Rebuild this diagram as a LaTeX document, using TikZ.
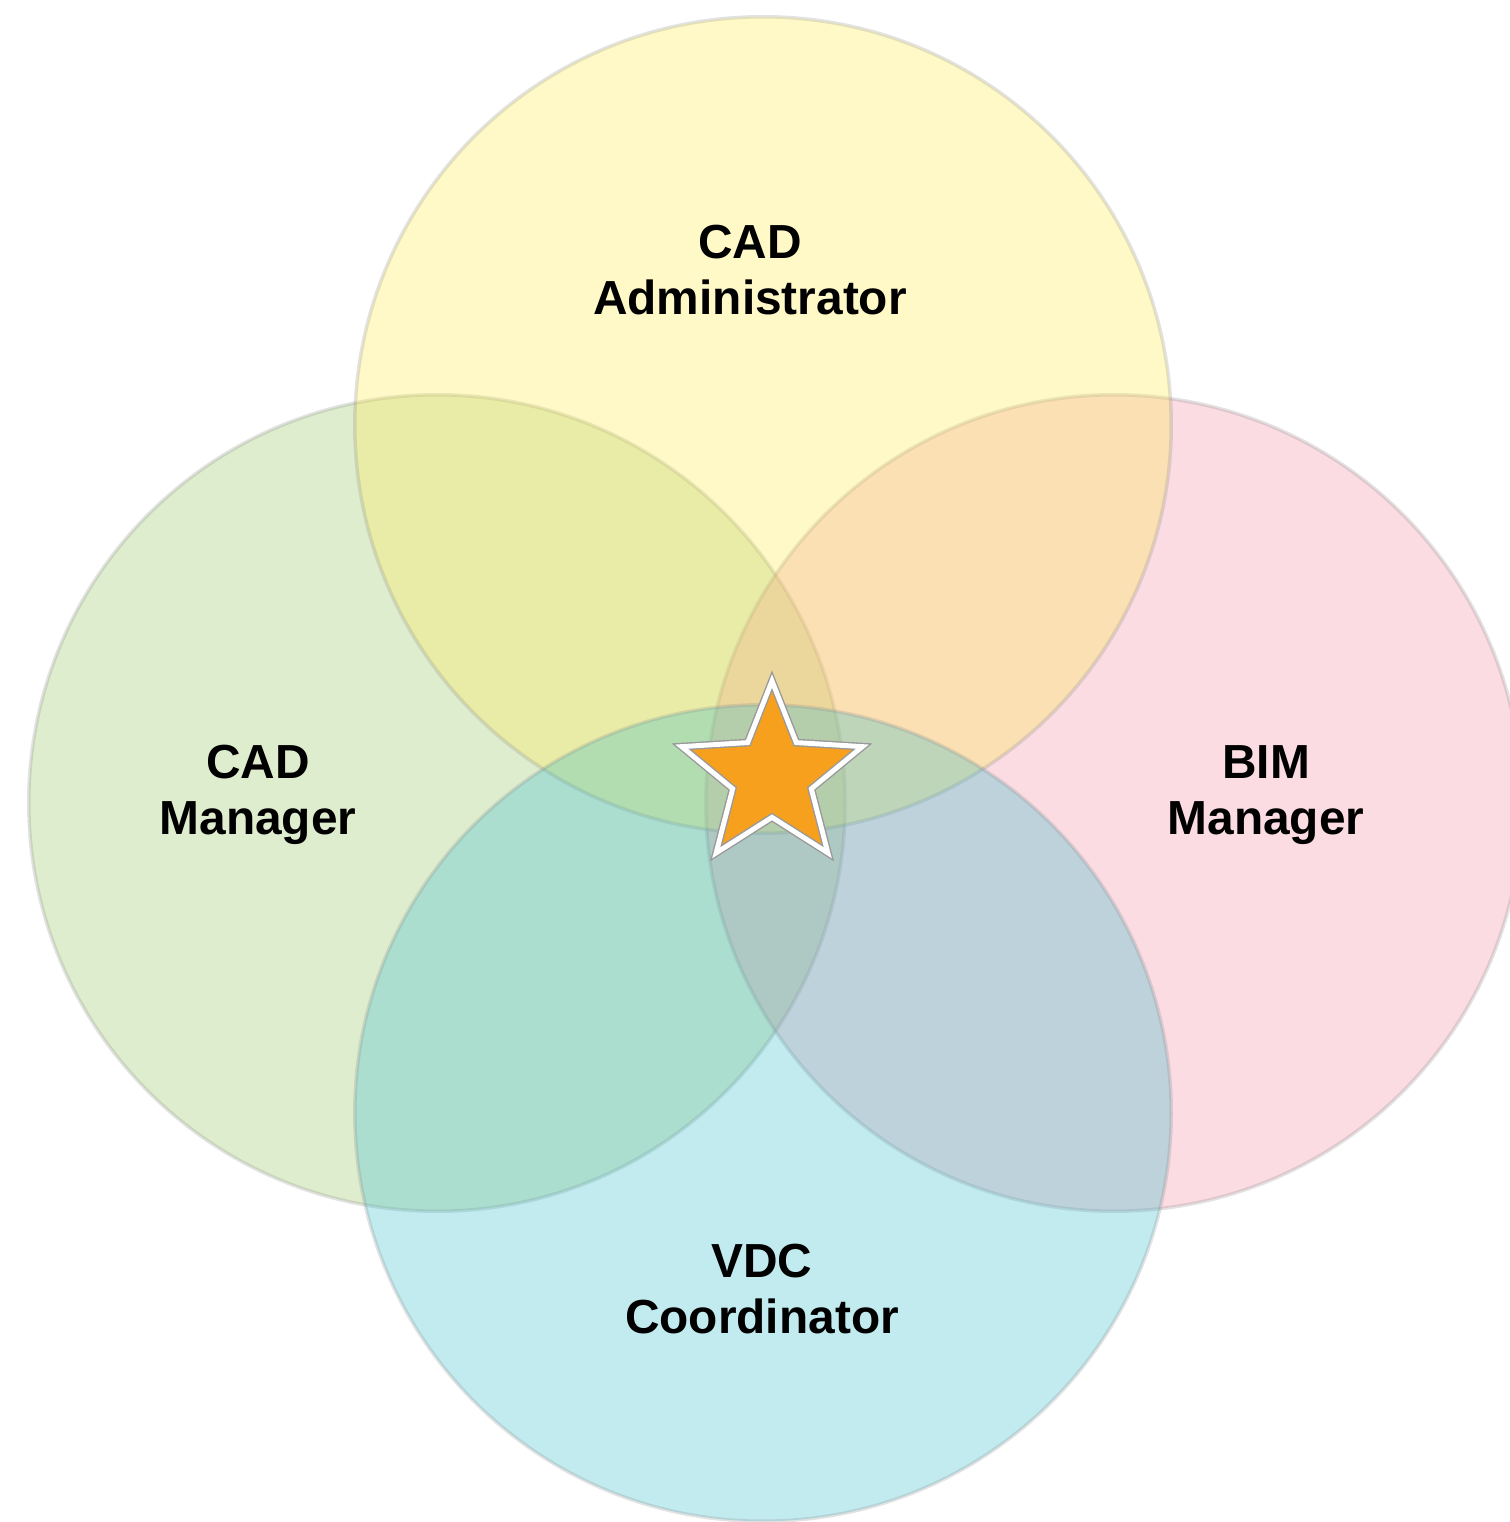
\documentclass[tikz,border=0pt]{standalone}
\usepackage{fontspec}
\setmainfont{Liberation Sans}
\usetikzlibrary{shapes.geometric, positioning}

\definecolor{adminyellow}{RGB}{255,235,72}
\definecolor{mgrgreen}{RGB}{148,195,95}
\definecolor{bimpink}{RGB}{238,138,158}
\definecolor{vdccyan}{RGB}{52,188,205}
\definecolor{starorange}{RGB}{247,160,30}

\tikzset{
    venn/.style={circle, minimum size=8.16cm, inner sep=0pt, fill opacity=0.3,
        draw=black!45, draw opacity=0.25, line width=1pt},
    role/.style={align=center, inner sep=0pt, font=\fontsize{13.6}{16}\selectfont\bfseries}
}

\begin{document}
\begin{tikzpicture}[x=0.01cm, y=-0.01cm]
                        \useasboundingbox (0, 0) rectangle (1510, 1522);
                        \clip (0, 0) rectangle (1510, 1522);

                        % the four circles
                        \node[venn, fill=mgrgreen] (cadmgr) at (437, 803) {};
                        \node[venn, fill=bimpink] (bim) at (1114, 803) {};
                        \node[venn, fill=adminyellow] (cadadmin) at (763, 425) {};
                        \node[venn, fill=vdccyan] (vdc) at (763, 1113) {};

                        % labels
                        \node[role] (cadadmintext) at (750, 270) {CAD\\Administrator};
                        \node[role] (cadmgrtext) at (258, 795) {CAD\\Manager};
                        \node[role] (bimtext) at (1266, 795) {BIM\\Manager};
                        \node[role] (vdctext) at (762, 1289) {VDC\\Coordinator};

                        % the star in the middle
                        \node[star, star points=5, star point ratio=2.3, minimum size=1.9cm, inner sep=0pt, outer sep=0pt,
                            fill=starorange, draw=black!40, double=white, double distance=1.4pt, line width=0.4pt]
                            (center) at (772, 776) {};
                    \end{tikzpicture}
\end{document}
